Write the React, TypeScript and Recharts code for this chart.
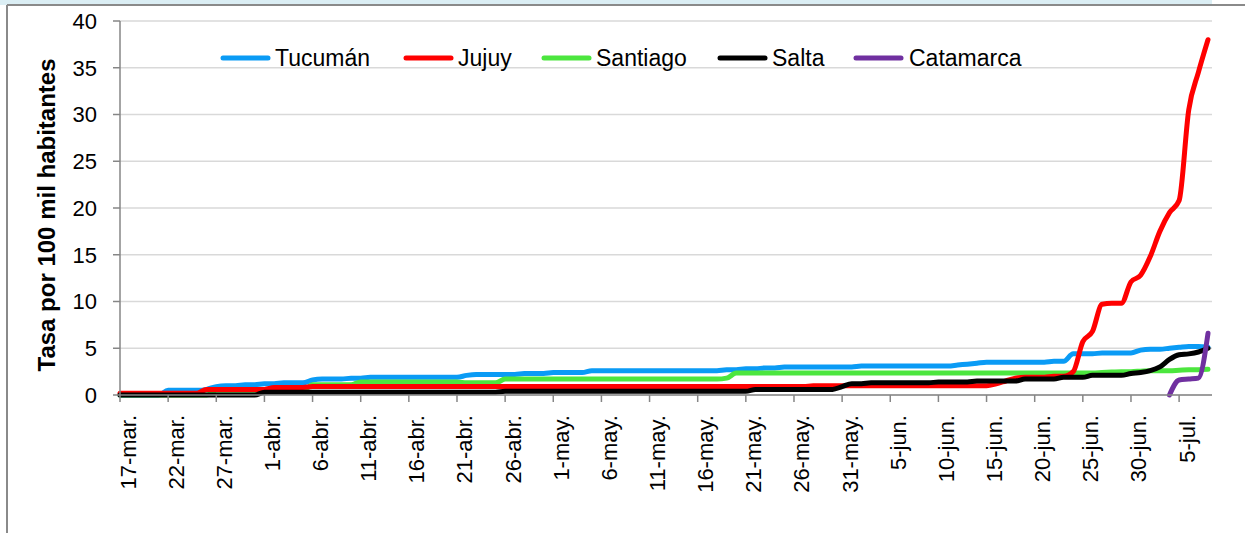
import React from 'react';
import { LineChart, Line, XAxis, YAxis, CartesianGrid, Legend } from 'recharts';

// ---- categories: daily dates 17-mar .. 8-jul ----
const MONTH_SPANS: [string, number, number][] = [
  ['mar', 17, 31],
  ['abr', 1, 30],
  ['may', 1, 31],
  ['jun', 1, 30],
  ['jul', 1, 8],
];
const dates: string[] = [];
MONTH_SPANS.forEach(([m, a, b]) => {
  for (let d = a; d <= b; d++) dates.push(`${d}-${m}.`);
});

const yTicks = [0, 5, 10, 15, 20, 25, 30, 35, 40];

// ---- series (rate per 100k inhabitants) ----
const tucuman = [
  0, 0, 0, 0, 0, 0.5, 0.5, 0.5, 0.5, 0.6,
  0.9, 1.0, 1.0, 1.1, 1.1, 1.2, 1.2, 1.3, 1.3, 1.3,
  1.6, 1.7, 1.7, 1.7, 1.8, 1.8, 1.9, 1.9, 1.9, 1.9,
  1.9, 1.9, 1.9, 1.9, 1.9, 1.9, 2.1, 2.2, 2.2, 2.2,
  2.2, 2.2, 2.3, 2.3, 2.3, 2.4, 2.4, 2.4, 2.4, 2.6,
  2.6, 2.6, 2.6, 2.6, 2.6, 2.6, 2.6, 2.6, 2.6, 2.6,
  2.6, 2.6, 2.6, 2.7, 2.7, 2.8, 2.8, 2.9, 2.9, 3.0,
  3.0, 3.0, 3.0, 3.0, 3.0, 3.0, 3.0, 3.1, 3.1, 3.1,
  3.1, 3.1, 3.1, 3.1, 3.1, 3.1, 3.1, 3.2, 3.3, 3.4,
  3.5, 3.5, 3.5, 3.5, 3.5, 3.5, 3.5, 3.6, 3.6, 4.4,
  4.4, 4.4, 4.5, 4.5, 4.5, 4.5, 4.8, 4.9, 4.9, 5.0,
  5.1, 5.2, 5.2, 5.1,
];

const jujuy = [
  0.2, 0.2, 0.2, 0.2, 0.2, 0.2, 0.2, 0.2, 0.2, 0.6,
  0.6, 0.6, 0.6, 0.6, 0.6, 0.6, 0.8, 0.8, 0.8, 0.8,
  0.9, 0.9, 0.9, 0.9, 0.9, 0.9, 0.9, 0.9, 0.9, 0.9,
  0.9, 0.9, 0.9, 0.9, 0.9, 0.9, 0.9, 0.9, 0.9, 0.9,
  0.9, 0.9, 0.9, 0.9, 0.9, 0.9, 0.9, 0.9, 0.9, 0.9,
  0.9, 0.9, 0.9, 0.9, 0.9, 0.9, 0.9, 0.9, 0.9, 0.9,
  0.9, 0.9, 0.9, 0.9, 0.9, 0.9, 0.9, 0.9, 0.9, 0.9,
  0.9, 0.9, 1.0, 1.0, 1.0, 1.0, 1.0, 1.0, 1.0, 1.0,
  1.0, 1.0, 1.0, 1.0, 1.0, 1.0, 1.0, 1.0, 1.0, 1.0,
  1.0, 1.2, 1.5, 1.8, 1.9, 1.9, 1.9, 2.0, 2.0, 2.5,
  5.7, 6.8, 9.7, 9.8, 9.8, 12.1, 12.8, 14.8, 17.5, 19.5,
  20.8, 30.5, 34.5, 38.0,
];

const santiago = [
  0, 0, 0, 0, 0, 0, 0, 0, 0, 0,
  0.5, 0.5, 0.5, 0.5, 0.5, 0.5, 0.5, 0.5, 0.5, 0.5,
  1.1, 1.1, 1.1, 1.1, 1.1, 1.4, 1.4, 1.4, 1.4, 1.4,
  1.4, 1.4, 1.4, 1.4, 1.4, 1.4, 1.3, 1.3, 1.3, 1.3,
  1.7, 1.7, 1.7, 1.7, 1.7, 1.7, 1.7, 1.7, 1.7, 1.7,
  1.7, 1.7, 1.7, 1.7, 1.7, 1.7, 1.7, 1.7, 1.7, 1.7,
  1.7, 1.7, 1.7, 1.8, 2.35, 2.35, 2.35, 2.35, 2.35, 2.35,
  2.35, 2.35, 2.35, 2.35, 2.35, 2.35, 2.35, 2.35, 2.35, 2.35,
  2.35, 2.35, 2.35, 2.35, 2.35, 2.35, 2.35, 2.35, 2.35, 2.35,
  2.35, 2.35, 2.35, 2.35, 2.35, 2.35, 2.35, 2.35, 2.35, 2.35,
  2.35, 2.35, 2.4, 2.45, 2.5, 2.5, 2.55, 2.6, 2.6, 2.6,
  2.65, 2.7, 2.7, 2.75,
];

const salta = [
  0, 0, 0, 0, 0, 0, 0, 0, 0, 0,
  0, 0, 0, 0, 0, 0.3, 0.3, 0.3, 0.3, 0.3,
  0.3, 0.3, 0.3, 0.3, 0.3, 0.3, 0.3, 0.3, 0.3, 0.3,
  0.3, 0.3, 0.3, 0.3, 0.3, 0.3, 0.3, 0.3, 0.3, 0.3,
  0.4, 0.4, 0.4, 0.4, 0.4, 0.4, 0.4, 0.4, 0.4, 0.4,
  0.4, 0.4, 0.4, 0.4, 0.4, 0.4, 0.4, 0.4, 0.4, 0.4,
  0.4, 0.4, 0.4, 0.4, 0.4, 0.4, 0.6, 0.6, 0.6, 0.6,
  0.6, 0.6, 0.6, 0.6, 0.6, 0.9, 1.2, 1.2, 1.3, 1.3,
  1.3, 1.3, 1.3, 1.3, 1.3, 1.4, 1.4, 1.4, 1.4, 1.5,
  1.5, 1.5, 1.5, 1.5, 1.7, 1.7, 1.7, 1.7, 1.9, 1.9,
  1.9, 2.1, 2.1, 2.1, 2.1, 2.3, 2.4, 2.6, 3.0, 3.8,
  4.3, 4.4, 4.6, 5.0,
];

// Catamarca only reported at the end of the period
const catamarcaFirstDate = '5-jul.';
const catamarcaValues = [0, 1.6, 1.7, 1.8, 6.6];

const SERIES = [
  { key: 'Tucumán', color: '#0A9BF5' },
  { key: 'Jujuy', color: '#FF0000' },
  { key: 'Santiago', color: '#4CE63E' },
  { key: 'Salta', color: '#000000' },
  { key: 'Catamarca', color: '#7030A0' },
];

const catStart = dates.indexOf(catamarcaFirstDate) - 1;
const data = dates.map((d, i) => ({
  date: d,
  'Tucumán': tucuman[i],
  Jujuy: jujuy[i],
  Santiago: santiago[i],
  Salta: salta[i],
  Catamarca: i >= catStart && i - catStart < catamarcaValues.length ? catamarcaValues[i - catStart] : null,
}));

const FONT = '"Liberation Sans", Arial, sans-serif';

const XTick = (props: any) => {
  const { x, y, payload } = props;
  const cx = x + 8;
  const cy = y + 11;
  return (
    <text
      x={cx}
      y={cy}
      transform={`rotate(-90, ${cx}, ${cy})`}
      textAnchor="end"
      dominantBaseline="central"
      fontSize={22}
      fontFamily={FONT}
      fill="#000"
    >
      {payload.value}
    </text>
  );
};

const LEGEND_POS = [
  { line: 220, text: 275 },
  { line: 403, text: 458 },
  { line: 541, text: 596 },
  { line: 717, text: 772 },
  { line: 853, text: 909 },
];

const LegendContent = () => (
  <svg width={1245} height={40} style={{ display: 'block' }}>
    {SERIES.map((s, i) => (
      <g key={s.key}>
        <line
          x1={LEGEND_POS[i].line + 3}
          x2={LEGEND_POS[i].line + 48}
          y1={18}
          y2={18}
          stroke={s.color}
          strokeWidth={5}
          strokeLinecap="round"
        />
        <text x={LEGEND_POS[i].text} y={26} fontSize={23} fontFamily={FONT} fill="#000">
          {s.key}
        </text>
      </g>
    ))}
  </svg>
);

const drawOrder = ['Tucumán', 'Santiago', 'Jujuy', 'Salta', 'Catamarca'];

export default function App() {
  return (
    <div style={{ position: 'absolute', left: 0, top: 0, width: 1245, height: 533, background: '#fff', overflow: 'hidden' }}>
      <div style={{ position: 'absolute', left: 0, top: 0, width: 1212, height: 5, background: '#DBEEF4' }} />
      <div style={{ position: 'absolute', left: 7, top: 4, width: 1238, height: 2, background: '#8A8A8A' }} />
      <div style={{ position: 'absolute', left: 6, top: 5, width: 2, height: 528, background: '#8A8A8A' }} />
      <div style={{ position: 'absolute', left: 0, top: 0 }}>
        <LineChart
          width={1245}
          height={533}
          data={data}
          margin={{ top: 21, right: 33, left: 0, bottom: 0 }}
          style={{ fontFamily: FONT }}
        >
          <CartesianGrid horizontal vertical={false} stroke="#D9D9D9" strokeWidth={1.5} />
          <XAxis
            dataKey="date"
            interval={4}
            height={138}
            tickSize={7}
            tick={<XTick />}
            stroke="#868686"
            strokeWidth={1.5}
            padding={{ left: 0, right: 4 }}
          />
          <YAxis
            width={120}
            domain={[0, 40]}
            ticks={yTicks}
            tickSize={7}
            tickMargin={16}
            stroke="#868686"
            strokeWidth={1.5}
            tick={{ fontSize: 22, fill: '#000', fontFamily: FONT }}
            label={{
              content: () => (
                <text
                  x={46}
                  y={215}
                  transform="rotate(-90, 46, 215)"
                  textAnchor="middle"
                  dominantBaseline="central"
                  fontSize={24}
                  fontWeight="bold"
                  fontFamily={FONT}
                  fill="#000"
                >
                  Tasa por 100 mil habitantes
                </text>
              ),
            }}
          />
          <Legend
            layout="horizontal"
            verticalAlign="middle"
            align="center"
            content={<LegendContent />}
            wrapperStyle={{ position: 'absolute', left: 0, top: 40, width: 1245, height: 40 }}
          />
          {drawOrder.map((k) => {
            const s = SERIES.find((x) => x.key === k)!;
            return (
              <Line
                key={k}
                type="monotone"
                dataKey={k}
                stroke={s.color}
                strokeWidth={5}
                strokeLinecap="round"
                strokeLinejoin="round"
                dot={false}
                activeDot={false}
                isAnimationActive={false}
                connectNulls={false}
              />
            );
          })}
        </LineChart>
      </div>
    </div>
  );
}
